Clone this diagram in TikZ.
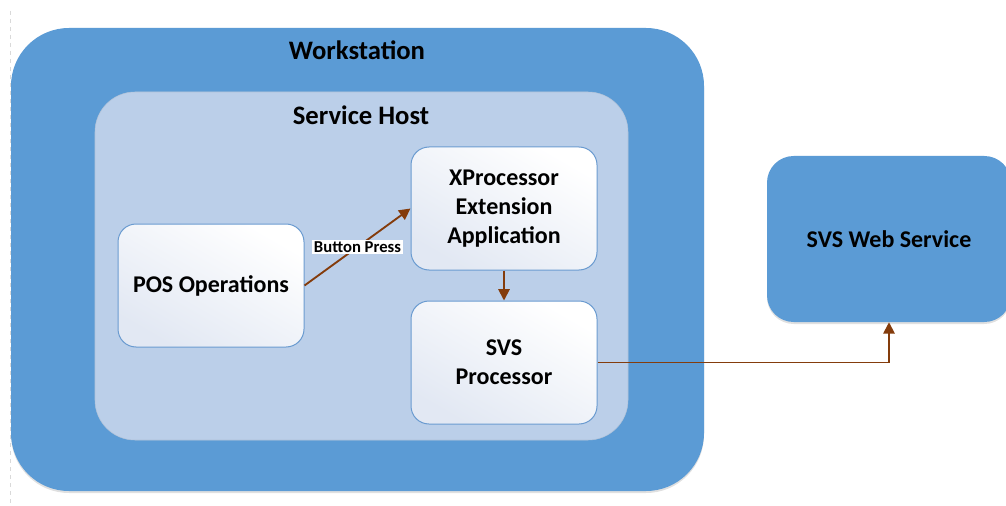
\documentclass[tikz,border=0pt]{standalone}
\usepackage{fontspec}
\setmainfont{Carlito}
\usetikzlibrary{arrows.meta,shadows}
\definecolor{wsblue}{HTML}{5B9BD5}
\definecolor{shblue}{HTML}{BBCFE9}
\definecolor{edgeblue}{HTML}{6A9BD0}
\definecolor{arrowbrown}{HTML}{843C0C}
\definecolor{gradtop}{HTML}{E2E8F3}
\tikzset{
  outerbox/.style={fill=wsblue, draw=none, rounded corners=#1, inner sep=0pt,
    drop shadow={shadow xshift=0pt, shadow yshift=-1.5pt, opacity=0.12, fill=black}},
  hostbox/.style={fill=shblue, draw=shblue!85!gray, line width=0.4pt, rounded corners=30pt, inner sep=0pt},
  procbox/.style={draw=edgeblue, line width=0.75pt, rounded corners=13.5pt,
    top color=white, bottom color=gradtop, shading angle=-30,
    minimum width=139.5pt, minimum height=92.25pt, inner sep=0pt, align=center,
    font=\fontsize{18}{21.75}\selectfont\bfseries},
  titletext/.style={font=\fontsize{20}{24}\selectfont\bfseries, inner sep=0pt},
  arr/.style={draw=arrowbrown, line width=1.4pt, -{Triangle[length=8.5pt,width=8.5pt]}},
  edgelabel/.style={fill=white, inner sep=1.5pt, font=\fontsize{12.5}{14}\selectfont\bfseries}
}
\begin{document}
\begin{tikzpicture}[x=0.75pt,y=-0.75pt]
\clip (0,0) rectangle (1006,506);
\fill[white] (0,0) rectangle (1006,506);
\draw[gray!30, dashed, line width=0.6pt] (10,11) -- (10,506);
% Workstation
\node[outerbox=43.5pt, minimum width=519.75pt, minimum height=347.25pt] (ws) at (357.5,259.5) {};
\node[titletext] (wstitle) at (357,50) {Workstation};
% Service Host
\node[hostbox, minimum width=399.75pt, minimum height=261pt] (sh) at (361.5,266) {};
\node[titletext] (shtitle) at (361,115) {Service Host};
% Inner boxes
\node[procbox] (pos) at (211,285.5) {POS Operations};
\node[procbox] (xp) at (504,208.5) {XProcessor\\Extension\\Application};
\node[procbox] (svs) at (504,362.5) {SVS\\Processor};
% Web service
\node[outerbox=20pt, minimum width=183pt, minimum height=124.5pt,
  font=\fontsize{18}{21.75}\selectfont\bfseries] (web) at (889,239) {SVS Web Service};
% Connectors
\draw[arr] (pos.east) -- node[edgelabel] {Button Press} (xp.west);
\draw[arr] (xp.south) -- (svs.north);
\draw[arr] (svs.east) -| (web.south);
\end{tikzpicture}
\end{document}
